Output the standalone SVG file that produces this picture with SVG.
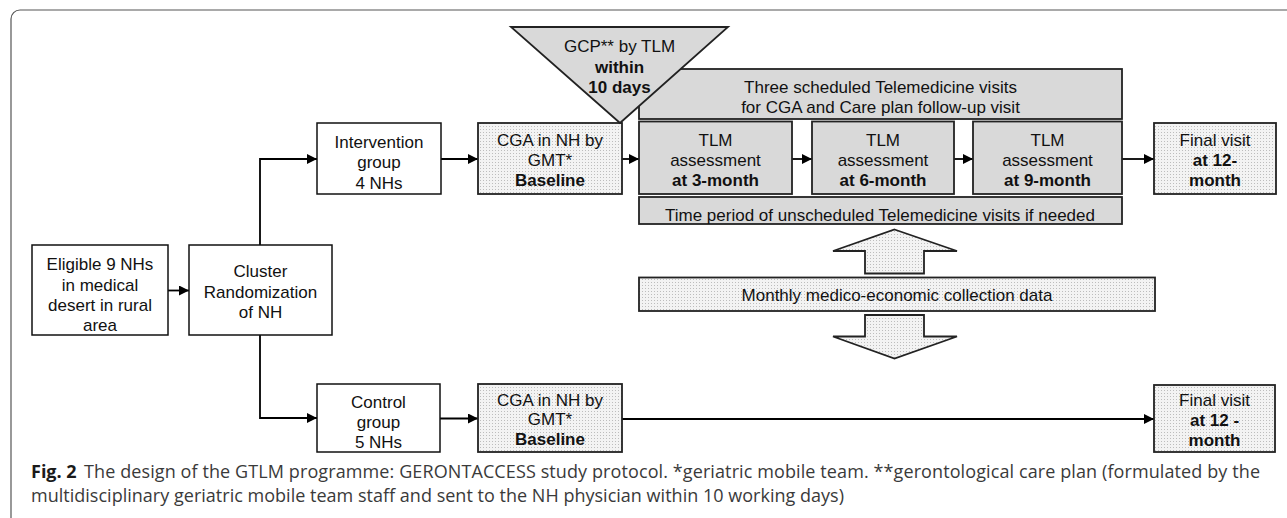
<svg xmlns="http://www.w3.org/2000/svg" width="1287" height="518" viewBox="0 0 1287 518">
<defs>
<pattern id="dots" width="3" height="3" patternUnits="userSpaceOnUse">
<rect width="3" height="3" fill="#f3f3f3"/>
<rect width="1" height="1" fill="#bdbdbd"/>
</pattern>
<marker id="arr" viewBox="0 0 10 10" refX="10" refY="5" markerWidth="10" markerHeight="10" markerUnits="userSpaceOnUse" orient="auto">
<path d="M0,0 L10,5 L0,10 Z" fill="#000"/>
</marker>
</defs>
<style>
.box{fill:#fff;stroke:#111;stroke-width:1.5}
.dot{fill:url(#dots);stroke:#222;stroke-width:1.8}
.gray{fill:#d9d9d9;stroke:#222;stroke-width:1.8}
.t{font-family:"Liberation Sans",Arial,sans-serif;font-size:17px;fill:#111;text-anchor:middle}
.b{font-weight:bold}
.con{fill:none;stroke:#000;stroke-width:1.8}
.cap{font-family:"Open Sans","Noto Sans",sans-serif;font-size:18px;fill:#3a3a3a}
</style>
<rect x="11" y="10" width="1300" height="530" rx="9" fill="#fff" stroke="#555" stroke-width="1.2"/>

<g id="connectors">
<path class="con" d="M168,290.5 H189" marker-end="url(#arr)"/>
<path class="con" d="M260,245 V159 H317" marker-end="url(#arr)"/>
<path class="con" d="M260,335 V418 H317" marker-end="url(#arr)"/>
<path class="con" d="M441,159 H478" marker-end="url(#arr)"/>
<path class="con" d="M622,159 H639" marker-end="url(#arr)"/>
<path class="con" d="M792,159 H812" marker-end="url(#arr)"/>
<path class="con" d="M954,159 H973" marker-end="url(#arr)"/>
<path class="con" d="M1122,159 H1154" marker-end="url(#arr)"/>
<path class="con" d="M440,418.5 H478" marker-end="url(#arr)"/>
<path class="con" d="M622,419 H1154" marker-end="url(#arr)"/>
</g>

<g id="eligible">
<rect class="box" x="32" y="245" width="136" height="90"/>
<text class="t" x="100" y="270">Eligible 9 NHs</text>
<text class="t" x="100" y="290.5">in medical</text>
<text class="t" x="100" y="310.5">desert in rural</text>
<text class="t" x="100" y="331">area</text>
</g>
<g id="cluster">
<rect class="box" x="189" y="245" width="143" height="90"/>
<text class="t" x="260.5" y="277">Cluster</text>
<text class="t" x="260.5" y="297.5">Randomization</text>
<text class="t" x="260.5" y="318">of NH</text>
</g>
<g id="intervention">
<rect class="box" x="317" y="123" width="124" height="71"/>
<text class="t" x="379" y="147.5">Intervention</text>
<text class="t" x="379" y="168">group</text>
<text class="t" x="379" y="188.5">4 NHs</text>
</g>
<g id="control">
<rect class="box" x="317" y="384" width="123" height="68"/>
<text class="t" x="378.5" y="408">Control</text>
<text class="t" x="378.5" y="428">group</text>
<text class="t" x="378.5" y="448">5 NHs</text>
</g>
<g id="cga-top">
<rect class="dot" x="478" y="123" width="144" height="71"/>
<text class="t" x="550" y="146">CGA in NH by</text>
<text class="t" x="550" y="166">GMT*</text>
<text class="t b" x="550" y="186">Baseline</text>
</g>
<g id="three-scheduled">
<rect class="gray" x="639" y="69" width="483" height="50"/>
<text class="t" x="880.5" y="93">Three scheduled Telemedicine visits</text>
<text class="t" x="880.5" y="113">for CGA and Care plan follow-up visit</text>
</g>
<g id="gcp">
<polygon class="gray" points="511,27 728,27 620,123"/>
<text class="t" x="619.5" y="52">GCP** by TLM</text>
<text class="t b" x="619.5" y="73">within</text>
<text class="t b" x="619.5" y="93">10 days</text>
</g>
<g id="tlm3">
<rect class="gray" x="639" y="121.5" width="153" height="72.5"/>
<text class="t" x="715.5" y="146">TLM</text>
<text class="t" x="715.5" y="166">assessment</text>
<text class="t b" x="715.5" y="186">at 3-month</text>
</g>
<g id="tlm6">
<rect class="gray" x="812" y="121.5" width="142" height="72.5"/>
<text class="t" x="883" y="146">TLM</text>
<text class="t" x="883" y="166">assessment</text>
<text class="t b" x="883" y="186">at 6-month</text>
</g>
<g id="tlm9">
<rect class="gray" x="973" y="121.5" width="149" height="72.5"/>
<text class="t" x="1047.5" y="146">TLM</text>
<text class="t" x="1047.5" y="166">assessment</text>
<text class="t b" x="1047.5" y="186">at 9-month</text>
</g>
<g id="final-top">
<rect class="dot" x="1154" y="123" width="122" height="71"/>
<text class="t" x="1215" y="146">Final visit</text>
<text class="t b" x="1215" y="166">at 12-</text>
<text class="t b" x="1215" y="186">month</text>
</g>
<g id="time-period">
<rect class="gray" x="639" y="197" width="483" height="27"/>
<text class="t" x="880" y="221">Time period of unscheduled Telemedicine visits if needed</text>
</g>
<g id="up-arrow">
<polygon class="dot" points="894.5,229.5 957,251 924,251 924,273.5 865,273.5 865,251 833,251"/>
</g>
<g id="monthly">
<rect class="dot" x="639" y="277.5" width="516" height="33.5"/>
<text class="t" x="897" y="301">Monthly medico-economic collection data</text>
</g>
<g id="down-arrow">
<polygon class="dot" points="865,315 924,315 924,336.5 957,336.5 894.5,358.5 833,336.5 865,336.5"/>
</g>
<g id="cga-bottom">
<rect class="dot" x="478" y="384" width="144" height="68"/>
<text class="t" x="550" y="405.5">CGA in NH by</text>
<text class="t" x="550" y="425">GMT*</text>
<text class="t b" x="550" y="445">Baseline</text>
</g>
<g id="final-bottom">
<rect class="dot" x="1154" y="385" width="121" height="67"/>
<text class="t" x="1214.5" y="406">Final visit</text>
<text class="t b" x="1214.5" y="426">at 12 -</text>
<text class="t b" x="1214.5" y="446">month</text>
</g>

<g id="caption">
<text class="cap" x="31" y="478" style="font-weight:bold;fill:#1a1a1a">Fig. 2</text>
<text class="cap" x="84" y="478" textLength="1176" lengthAdjust="spacing">The design of the GTLM programme: GERONTACCESS study protocol. *geriatric mobile team. **gerontological care plan (formulated by the</text>
<text class="cap" x="31" y="502" textLength="813" lengthAdjust="spacing">multidisciplinary geriatric mobile team staff and sent to the NH physician within 10 working days)</text>
</g>
</svg>
